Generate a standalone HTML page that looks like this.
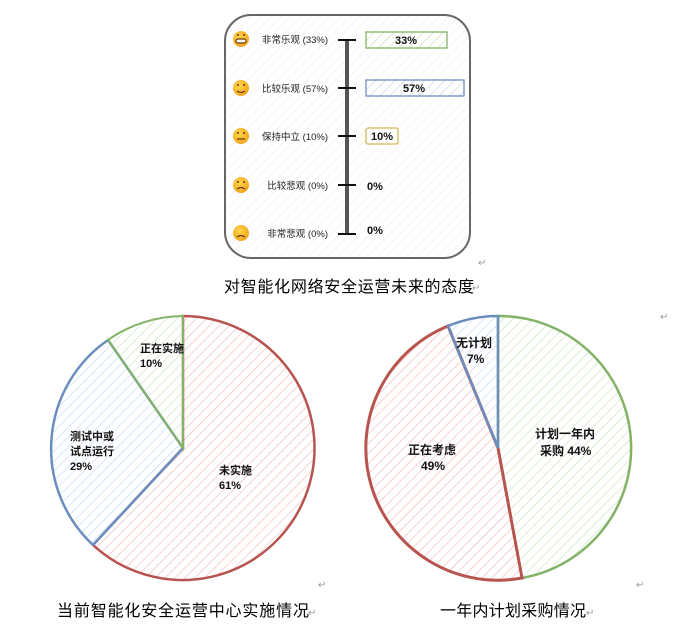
<!DOCTYPE html>
<html><head><meta charset="utf-8"><style>
html,body{margin:0;padding:0;background:#fff;}
svg{display:block;font-family:"Liberation Sans","Noto Sans CJK SC",sans-serif;}
</style></head><body>
<svg width="685" height="633" viewBox="0 0 685 633" xmlns="http://www.w3.org/2000/svg">
<defs>
<pattern id="hg" width="7" height="7" patternUnits="userSpaceOnUse" patternTransform="rotate(45)"><line x1="0" y1="0" x2="0" y2="7" stroke="#eee" stroke-width="1.2"/></pattern>
<pattern id="hr" width="7" height="7" patternUnits="userSpaceOnUse" patternTransform="rotate(45)"><line x1="0" y1="0" x2="0" y2="7" stroke="#f4b8b8" stroke-width="1.3"/></pattern>
<pattern id="hb" width="7" height="7" patternUnits="userSpaceOnUse" patternTransform="rotate(45)"><line x1="0" y1="0" x2="0" y2="7" stroke="#c4d8f4" stroke-width="1.3"/></pattern>
<pattern id="hgr" width="7" height="7" patternUnits="userSpaceOnUse" patternTransform="rotate(45)"><line x1="0" y1="0" x2="0" y2="7" stroke="#c9e3c0" stroke-width="1.3"/></pattern>
<radialGradient id="em" cx="0.4" cy="0.35" r="0.7"><stop offset="0" stop-color="#ffd54a"/><stop offset="1" stop-color="#f2a31c"/></radialGradient>
</defs>

<!-- top box -->
<rect x="225" y="15" width="245" height="243" rx="26" fill="url(#hg)" stroke="#666" stroke-width="2"/>
<line x1="347" y1="40" x2="347" y2="234" stroke="#555" stroke-width="4"/>
<g stroke="#111" stroke-width="2">
<line x1="338" y1="40" x2="356" y2="40"/><line x1="338" y1="88" x2="356" y2="88"/><line x1="338" y1="136" x2="356" y2="136"/><line x1="338" y1="185" x2="356" y2="185"/><line x1="338" y1="234" x2="356" y2="234"/>
</g>
<g fill="url(#em)">
<circle cx="241" cy="39" r="8"/><circle cx="241" cy="88" r="8"/><circle cx="241" cy="136" r="8"/><circle cx="241" cy="185" r="8"/><circle cx="241" cy="233" r="8"/>
</g>
<g stroke="#6b3a0a" stroke-width="1.2" fill="none">
<rect x="236" y="39" width="10" height="4" rx="2" fill="#fff"/>
<path d="M237 91 q4 3 8 0"/><line x1="237" y1="139" x2="245" y2="139"/><path d="M237 189 q4 -3 8 0"/><path d="M237 237 q4 -3 8 0"/>
</g>
<g fill="#6b3a0a"><circle cx="238" cy="85" r="1"/><circle cx="244" cy="85" r="1"/><circle cx="238" cy="133" r="1"/><circle cx="244" cy="133" r="1"/><circle cx="238" cy="182" r="1"/><circle cx="244" cy="182" r="1"/><circle cx="238" cy="35" r="1"/><circle cx="244" cy="35" r="1"/></g>
<g font-size="9.5" fill="#222" text-anchor="end">
<text x="328" y="43">非常乐观 (33%)</text>
<text x="328" y="92">比较乐观 (57%)</text>
<text x="328" y="140">保持中立 (10%)</text>
<text x="328" y="189">比较悲观 (0%)</text>
<text x="328" y="237">非常悲观 (0%)</text>
</g>
<rect x="366" y="32" width="81" height="16" fill="url(#hgr)" stroke="#82b366" stroke-width="1.3"/>
<rect x="366" y="80" width="98" height="16" fill="url(#hb)" stroke="#6c8ebf" stroke-width="1.3"/>
<rect x="366" y="128" width="32" height="16" rx="2" fill="#fff" stroke="#d6b656" stroke-width="1.3"/>
<g font-size="11" font-weight="bold" fill="#111">
<text x="406" y="44" text-anchor="middle">33%</text>
<text x="414" y="92" text-anchor="middle">57%</text>
<text x="382" y="140" text-anchor="middle">10%</text>
<text x="367" y="190">0%</text>
<text x="367" y="234">0%</text>
</g>
<text x="224" y="292" font-size="16" fill="#000" textLength="250">对智能化网络安全运营未来的态度</text>

<!-- pie 1 center 183,448 r 132 -->
<path d="M183 448 L183 316 A132 132 0 1 1 93 545 Z" fill="url(#hr)" stroke="#b85450" stroke-width="2.5"/>
<path d="M183 448 L93 545 A132 132 0 0 1 108 340 Z" fill="url(#hb)" stroke="#6c8ebf" stroke-width="2.5"/>
<path d="M183 448 L108 340 A132 132 0 0 1 183 316 Z" fill="url(#hgr)" stroke="#82b366" stroke-width="2"/>
<g font-size="11" font-weight="bold" fill="#111">
<text x="140" y="352">正在实施</text><text x="140" y="367">10%</text>
<text x="70" y="440">测试中或</text><text x="70" y="455">试点运行</text><text x="70" y="470">29%</text>
<text x="219" y="474">未实施</text><text x="219" y="489">61%</text>
</g>
<text x="57" y="616" font-size="16" fill="#000" textLength="252">当前智能化安全运营中心实施情况</text>

<!-- pie 2 center 498,448 -->
<path d="M498 448 L498 316 A132 132 0 0 1 522 578 Z" fill="url(#hgr)" stroke="#82b366" stroke-width="2.5"/>
<path d="M498 448 L522 578 A132 132 0 0 1 448 326 Z" fill="url(#hr)" stroke="#b85450" stroke-width="3"/>
<path d="M498 448 L448 326 A132 132 0 0 1 498 316 Z" fill="url(#hb)" stroke="#6c8ebf" stroke-width="2.5"/>
<g font-size="12" font-weight="bold" fill="#111">
<text x="456" y="347">无计划</text><text x="467" y="363">7%</text>
<text x="408" y="454">正在考虑</text><text x="421" y="470">49%</text>
<text x="535" y="438">计划一年内</text><text x="540" y="455">采购 44%</text>
</g>
<text x="440" y="616" font-size="16" fill="#000" textLength="146">一年内计划采购情况</text>

<g font-size="10" fill="#999">
<text x="478" y="266">↵</text><text x="472" y="291">↵</text><text x="660" y="320">↵</text><text x="318" y="588">↵</text><text x="636" y="588">↵</text><text x="308" y="616">↵</text><text x="586" y="616">↵</text>
</g>
</svg>
</body></html>
